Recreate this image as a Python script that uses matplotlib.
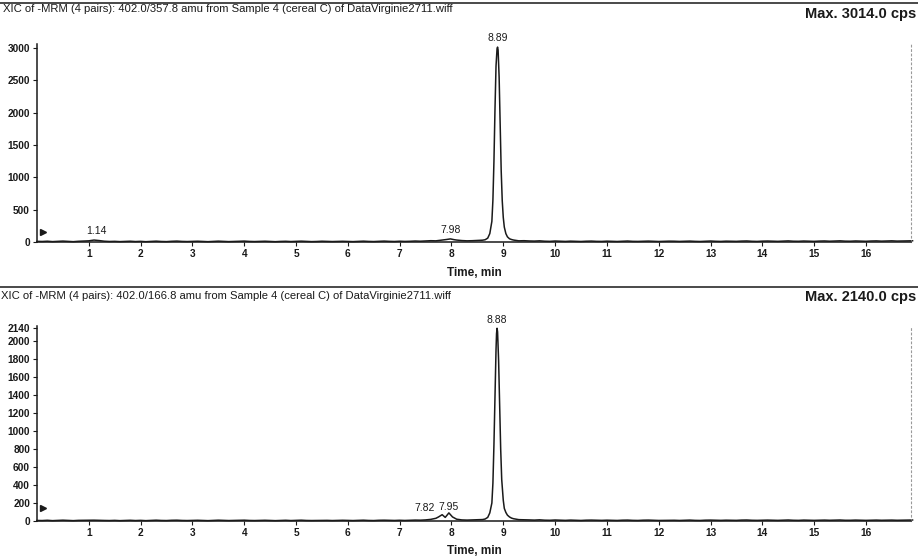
import numpy as np
import matplotlib
matplotlib.use("Agg")
import matplotlib.pyplot as plt
from matplotlib.lines import Line2D

plt.rcParams['font.family'] = ['Liberation Sans', 'DejaVu Sans']

# ---------------- data ----------------
# Panel 1: 402.0/357.8
top_title = "XIC of -MRM (4 pairs): 402.0/357.8 amu from Sample 4 (cereal C) of DataVirginie2711.wiff"
top_max = "Max. 3014.0 cps"
top_pre = [10, 8, 12, 6, 10, 14, 9, 5, 11, 15, 18, 30, 22, 12, 8, 10, 6, 9, 12, 7,
           10, 5, 9, 13, 8, 6, 11, 14, 9, 7, 10, 12, 8, 5, 9, 13, 10, 6, 8, 11,
           14, 9, 7, 10, 12, 8, 5, 9, 11, 7, 10, 13, 9, 6, 8, 12, 10, 7, 9, 11,
           8, 6, 10, 13, 9, 7, 11, 14, 10, 8, 12, 9, 11, 15, 12]
top_peak_t = [7.5, 7.6, 7.7, 7.8, 7.9, 7.98, 8.05, 8.1, 8.2, 8.3,
              8.4, 8.5, 8.6, 8.65, 8.70, 8.74, 8.78, 8.80, 8.82, 8.84,
              8.86, 8.88, 8.89, 8.90, 8.92, 8.94, 8.96, 8.98, 9.00, 9.02,
              9.05, 9.08, 9.12, 9.16, 9.20, 9.25, 9.3]
top_peak_v = [16, 20, 18, 28, 38, 48, 36, 30, 22, 18,
              20, 24, 28, 35, 60, 130, 320, 650, 1250, 2050,
              2720, 2990, 3014, 2970, 2550, 1850, 1100, 640, 380, 230,
              130, 80, 50, 38, 30, 24, 18]
top_post = [20, 16, 14, 18, 12, 10, 15, 12, 9, 13, 11, 8, 12, 14, 10, 9, 13, 11, 8, 12,
            15, 10, 9, 12, 14, 11, 8, 10, 13, 12, 9, 11, 14, 10, 8, 12, 15, 11, 9, 13,
            12, 10, 14, 16, 11, 9, 13, 15, 12, 10, 14, 17, 12, 11, 15, 13, 10, 14, 16, 12,
            15, 18, 13, 12, 16, 14, 11, 15, 17, 13, 16, 18, 14, 15, 17, 19]
top_labels = ["1.14", "7.98", "8.89"]
top_label_t = [1.14, 7.98, 8.89]
top_yticks = [0, 500, 1000, 1500, 2000, 2500, 3000]

# Panel 2: 402.0/166.8
bot_title = "XIC of -MRM (4 pairs): 402.0/166.8 amu from Sample 4 (cereal C) of DataVirginie2711.wiff"
bot_max = "Max. 2140.0 cps"
bot_pre = [6, 5, 8, 4, 7, 9, 6, 4, 7, 8, 10, 9, 7, 6, 5, 7, 4, 6, 8, 5,
           7, 4, 6, 9, 6, 5, 8, 9, 6, 5, 7, 8, 6, 4, 6, 9, 7, 5, 6, 8,
           9, 6, 5, 7, 8, 6, 4, 6, 8, 5, 7, 9, 6, 5, 6, 8, 7, 5, 6, 8,
           6, 5, 7, 9, 6, 5, 8, 9, 7, 6, 8, 6, 8, 10, 9]
bot_peak_t = [7.5, 7.6, 7.7, 7.75, 7.82, 7.88, 7.95, 8.02, 8.1, 8.2,
              8.3, 8.4, 8.5, 8.6, 8.65, 8.70, 8.74, 8.78, 8.80, 8.82,
              8.84, 8.86, 8.87, 8.88, 8.89, 8.91, 8.93, 8.95, 8.97, 9.00,
              9.02, 9.05, 9.08, 9.12, 9.16, 9.20, 9.25, 9.3]
bot_peak_v = [12, 18, 30, 45, 70, 40, 90, 45, 20, 12,
              10, 12, 14, 16, 22, 40, 90, 200, 420, 850,
              1400, 1900, 2080, 2140, 2100, 1780, 1300, 800, 460, 230,
              140, 95, 65, 45, 32, 25, 20, 15]
bot_post = [14, 12, 10, 13, 9, 8, 11, 9, 7, 10, 8, 6, 9, 10, 8, 7, 9, 8, 6, 9,
            10, 7, 6, 9, 10, 8, 6, 7, 9, 8, 6, 8, 10, 7, 6, 9, 10, 8, 7, 9,
            8, 7, 10, 11, 8, 7, 9, 10, 8, 7, 9, 11, 8, 7, 10, 9, 7, 9, 10, 8,
            9, 11, 8, 8, 10, 9, 7, 9, 10, 8, 9, 10, 8, 9, 10, 11]
bot_labels = ["7.82", "7.95", "8.88"]
bot_label_t = [7.82, 7.95, 8.88]
bot_yticks = [0, 200, 400, 600, 800, 1000, 1200, 1400, 1600, 1800, 2000, 2140]

x_ticks = list(range(1, 17))
x_label = "Time, min"

# ---------------- drawing ----------------
W, H = 918, 556
fig = plt.figure(figsize=(W / 100, H / 100), dpi=100)

def trace(pre, pk_t, pk_v, post):
    t = np.concatenate([0.1 * np.arange(len(pre)), np.array(pk_t),
                        9.4 + 0.1 * np.arange(len(post))])
    v = np.concatenate([np.array(pre, float), np.array(pk_v, float), np.array(post, float)])
    return t, v

XMAX = 16.87
ink = '#1a1a1a'

def panel(rect, t, v, ymax, yticks, labels, label_t, label_style, arrow_y, xl_y):
    ax = fig.add_axes(rect)
    ax.plot(t, v, color=ink, lw=1.1, clip_on=False)
    ax.set_xlim(0, XMAX)
    ax.set_ylim(0, ymax)
    ax.spines['top'].set_visible(False)
    ax.spines['right'].set_color('#9a9a9a')
    ax.spines['right'].set_linestyle((0, (1.5, 2.5)))
    ax.spines['right'].set_linewidth(0.8)
    for s in ('left', 'bottom'):
        ax.spines[s].set_color(ink)
        ax.spines[s].set_linewidth(1.1)
    ax.set_xticks(x_ticks)
    ax.set_xticklabels([str(x) for x in x_ticks])
    ax.set_yticks(yticks)
    ax.set_yticklabels([str(y) for y in yticks])
    ax.tick_params(axis='both', direction='out', length=3, width=0.8, colors=ink,
                   labelsize=7.3, pad=2)
    for lab in ax.get_xticklabels() + ax.get_yticklabels():
        lab.set_fontweight('bold')
    ax.set_xlabel(x_label, fontsize=8.5, fontweight='bold', color=ink)
    ax.xaxis.set_label_coords(0.501, xl_y)
    for txt, lt, (ha, dx, dy) in zip(labels, label_t, label_style):
        yv = np.interp(lt, t, v)
        ax.annotate(txt, (lt, yv), xytext=(dx, dy), textcoords='offset points',
                    ha=ha, va='bottom', fontsize=7.5, color=ink)
    ax.plot([0.12], [arrow_y], marker='>', ms=4.5, color=ink, clip_on=False)
    return ax

t1, v1 = trace(top_pre, top_peak_t, top_peak_v, top_post)
t2, v2 = trace(bot_pre, bot_peak_t, bot_peak_v, bot_post)

ax1 = panel([37 / W, (H - 242) / H, (911 - 37) / W, 198 / H], t1, v1, 3062,
            top_yticks, top_labels, top_label_t,
            [('center', 0, 3), ('center', 0, 3), ('center', 0, 3)], 150, -0.125)
ax2 = panel([37 / W, (H - 521) / H, (911 - 37) / W, 195 / H], t2, v2, 2165,
            bot_yticks, bot_labels, bot_label_t,
            [('right', -5, 1), ('center', 0, 1), ('center', 0, 2)], 140, -0.125)

# header lines and titles
for yy in (3, 287):
    fig.add_artist(Line2D([0, 1], [1 - yy / H, 1 - yy / H], color='#2a2a2a', lw=1.2,
                          transform=fig.transFigure))
fig.text(3 / W, 1 - 9 / H, top_title, fontsize=8.1, color=ink, va='center', ha='left')
fig.text(1 / W, 1 - 296 / H, bot_title, fontsize=8.1, color=ink, va='center', ha='left')
fig.text(916 / W, 1 - 14 / H, top_max, fontsize=10.5, fontweight='bold', color=ink,
         va='center', ha='right')
fig.text(916 / W, 1 - 297 / H, bot_max, fontsize=10.5, fontweight='bold', color=ink,
         va='center', ha='right')

fig.savefig("out.png", dpi=100, facecolor='white')
